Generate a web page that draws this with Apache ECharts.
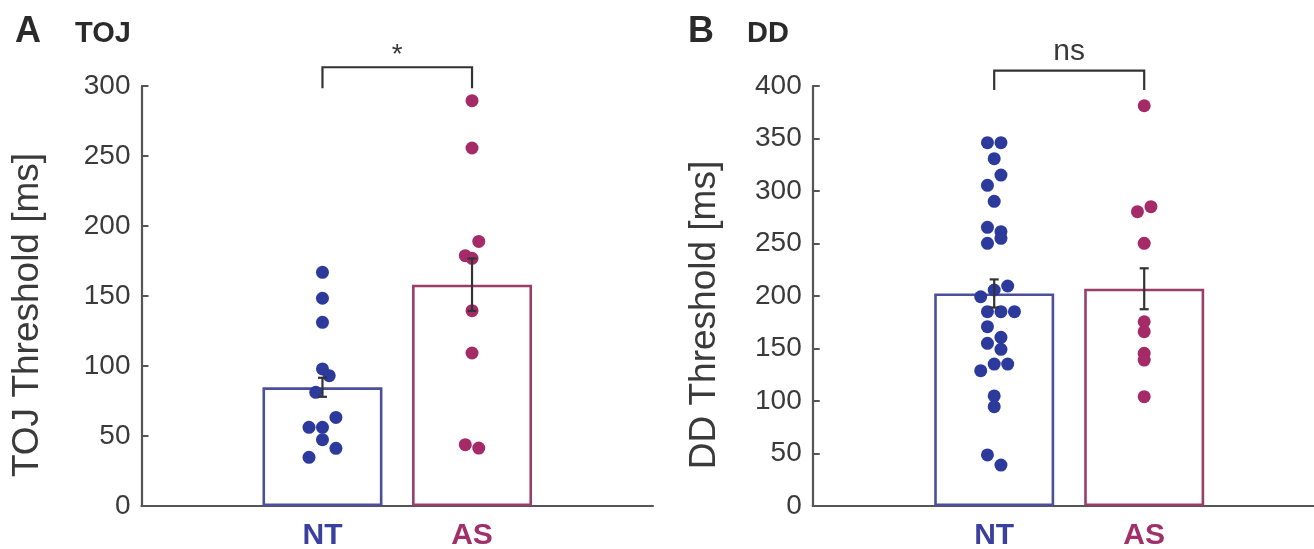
<!DOCTYPE html>
<html>
<head>
<meta charset="utf-8">
<script src="https://cdn.jsdelivr.net/npm/echarts@6/dist/echarts.min.js"></script>
<style>
html,body{margin:0;padding:0;background:#fff;}
#c{width:1314px;height:549px;}
</style>
</head>
<body>
<div id="c"></div>
<script>
// ---- data ----
var groups = ['NT', 'AS'];
// Panel A: TOJ thresholds (ms)
var tojNT = [166.9, 148.4, 131.2, 97.9, 93.1, 81.2, 63.3, 56.2, 56.2, 47.4, 41.2, 34.8];
var tojNTJitter = [0, 0, 0, 0, 1, -1, 2, -2, 0, 0, 2, -2];
var tojAS = [289.5, 255.7, 189.0, 178.8, 176.9, 139.5, 109.3, 43.8, 41.4];
var tojASJitter = [0, 0, 1, -1, 0, 0, 0, -1, 1];
var tojMean = [84.8, 158.1];
var tojSem = [6.8, 18.7];
// Panel B: DD thresholds (ms)
var ddNT = [346, 346, 330.8, 315.2, 305.4, 290.2, 265.4, 261.3, 254.9, 250.2, 209.5, 205.7, 199.3,
            185.1, 185.1, 185.1, 170.8, 160.6, 154.9, 149.2, 135.2, 135.2, 128.9, 104.8, 94.6, 48.6, 39.0];
var ddNTJitter = [-1, 1, 0, 1, -1, 0, -1, 1, 1, -1, 2, 0, -2,
                  -1, 1, 3, -1, 1, -1, 1, 0, 2, -2, 0, 0, -1, 1];
var ddAS = [381.2, 285.1, 280.3, 250.2, 175.5, 166.0, 145.4, 139.0, 104.1];
var ddASJitter = [0, 1, -1, 0, 0, 0, 0, 0, 0];
var ddMean = [202.4, 206.9];
var ddSem = [13.4, 19.5];
var yTicksA = [0, 300, 50];
var yTicksB = [0, 400, 50];
var sigA = '*';
var sigB = 'ns';

// ---- styles ----
var FONT = 'Liberation Sans';
var TXT = '#3a3a3a';
var AX = '#555555';
var dotColors = ['#2c3a9c', '#a52a68'];
var barColors = ['#4c4f9c', '#9a3d68'];
var labelColors = ['#3a40a0', '#a0306a'];
var JSTEP = 0.045;

function pts(vals, jit, x) {
  return vals.map(function (v, i) { return [x + jit[i] * JSTEP, v]; });
}

function xAxisFor(idx) {
  return {
    type: 'value', gridIndex: idx, min: -0.21, max: 3.21,
    splitLine: {show: false},
    axisLine: {show: true, onZero: false, lineStyle: {color: AX, width: 2.2}},
    axisTick: {show: true, inside: true, length: 6, customValues: [1, 2], lineStyle: {color: AX, width: 2}},
    axisLabel: {
      customValues: [1, 2], margin: 15,
      formatter: function (v) { return v === 1 ? '{a|' + groups[0] + '}' : '{b|' + groups[1] + '}'; },
      rich: {
        a: {color: labelColors[0], fontSize: 30, fontWeight: 'bold', fontFamily: FONT},
        b: {color: labelColors[1], fontSize: 30, fontWeight: 'bold', fontFamily: FONT}
      }
    }
  };
}
function yAxisFor(idx, ticks, name, gap) {
  return {
    type: 'value', gridIndex: idx, min: ticks[0], max: ticks[1], interval: ticks[2],
    name: name, nameLocation: 'middle', nameRotate: 90, nameGap: gap,
    nameTextStyle: {color: TXT, fontSize: 37, fontFamily: FONT, padding: [0, 38, 0, 0]},
    splitLine: {show: false},
    axisLine: {show: true, onZero: false, lineStyle: {color: AX, width: 2.2}},
    axisTick: {show: true, inside: true, length: 7, lineStyle: {color: AX, width: 2}},
    axisLabel: {color: TXT, fontSize: 28, fontFamily: FONT, margin: 11}
  };
}

function barSeries(idx, means) {
  return {
    type: 'bar', xAxisIndex: idx, yAxisIndex: idx, barWidth: 120, z: 1,
    data: means.map(function (m, i) {
      return {value: [i + 1, m], itemStyle: {color: '#ffffff', borderColor: barColors[i], borderWidth: 2.6}};
    })
  };
}
function dotSeries(idx, data, color) {
  return {
    type: 'scatter', xAxisIndex: idx, yAxisIndex: idx, symbolSize: 13, z: 3,
    itemStyle: {color: color, opacity: 1}, data: data
  };
}
function errSeries(idx, means, sems) {
  return {
    type: 'custom', xAxisIndex: idx, yAxisIndex: idx, z: 5,
    data: means.map(function (m, i) { return [i + 1, m - sems[i], m + sems[i]]; }),
    renderItem: function (params, api) {
      var lo = api.coord([api.value(0), api.value(1)]);
      var hi = api.coord([api.value(0), api.value(2)]);
      var w = 4.5;
      var st = {stroke: '#333333', lineWidth: 2.2};
      return {type: 'group', children: [
        {type: 'line', shape: {x1: lo[0], y1: lo[1], x2: hi[0], y2: hi[1]}, style: st},
        {type: 'line', shape: {x1: lo[0] - w, y1: lo[1], x2: lo[0] + w, y2: lo[1]}, style: st},
        {type: 'line', shape: {x1: hi[0] - w, y1: hi[1], x2: hi[0] + w, y2: hi[1]}, style: st}
      ]};
    }
  };
}
function bracketSeries(idx, legY, topY, label, fs, lift) {
  return {
    type: 'custom', xAxisIndex: idx, yAxisIndex: idx, z: 6, clip: false,
    data: [[1, 2, legY, topY]],
    renderItem: function (params, api) {
      var a = api.coord([api.value(0), api.value(2)]);
      var b = api.coord([api.value(0), api.value(3)]);
      var c = api.coord([api.value(1), api.value(3)]);
      var d = api.coord([api.value(1), api.value(2)]);
      return {type: 'group', children: [
        {type: 'polyline', shape: {points: [a, b, c, d]}, style: {stroke: '#333333', lineWidth: 2.2, fill: null}},
        {type: 'text', x: (b[0] + c[0]) / 2, y: b[1] - lift,
         style: {text: label, fill: TXT, fontSize: fs, fontFamily: FONT, align: 'center', verticalAlign: 'middle'}}
      ]};
    }
  };
}

var chart = echarts.init(document.getElementById('c'), null, {renderer: 'canvas'});
chart.setOption({
  backgroundColor: '#ffffff',
  animation: false,
  textStyle: {fontFamily: FONT},
  title: [
    {left: 10, top: 9, text: '{a|A}', textStyle: {rich: {a: {fontSize: 36, fontWeight: 'bold', color: '#2a2a2a', fontFamily: FONT}}}},
    {left: 70, top: 14, text: '{a|TOJ}', textStyle: {rich: {a: {fontSize: 29, fontWeight: 'bold', color: '#2a2a2a', fontFamily: FONT}}}},
    {left: 683, top: 9, text: '{a|B}', textStyle: {rich: {a: {fontSize: 36, fontWeight: 'bold', color: '#2a2a2a', fontFamily: FONT}}}},
    {left: 742, top: 14, text: '{a|DD}', textStyle: {rich: {a: {fontSize: 29, fontWeight: 'bold', color: '#2a2a2a', fontFamily: FONT}}}}
  ],
  grid: [
    {left: 141.5, top: 86, width: 511.5, height: 420, outerBoundsMode: 'none', containLabel: false},
    {left: 812.7, top: 86, width: 513, height: 420, outerBoundsMode: 'none', containLabel: false}
  ],
  xAxis: [xAxisFor(0), xAxisFor(1)],
  yAxis: [yAxisFor(0, yTicksA, 'TOJ Threshold [ms]', 95), yAxisFor(1, yTicksB, 'DD Threshold [ms]', 89)],
  series: [
    barSeries(0, tojMean),
    dotSeries(0, pts(tojNT, tojNTJitter, 1), dotColors[0]),
    dotSeries(0, pts(tojAS, tojASJitter, 2), dotColors[1]),
    errSeries(0, tojMean, tojSem),
    bracketSeries(0, 298.4, 313.4, sigA, 28, 12),
    barSeries(1, ddMean),
    dotSeries(1, pts(ddNT, ddNTJitter, 1), dotColors[0]),
    dotSeries(1, pts(ddAS, ddASJitter, 2), dotColors[1]),
    errSeries(1, ddMean, ddSem),
    bracketSeries(1, 396.2, 414.6, sigB, 30, 19)
  ]
});
</script>
</body>
</html>
